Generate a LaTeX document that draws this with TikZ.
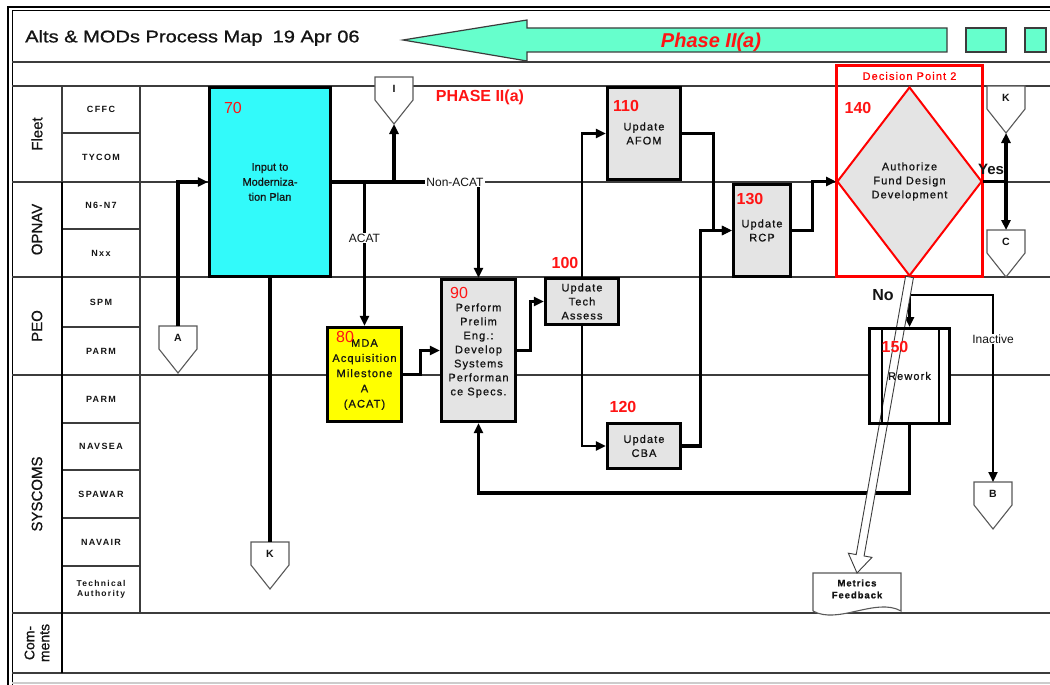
\documentclass[tikz,border=0pt]{standalone}
\usepackage{graphicx}
\usepackage{fontspec}
\setmainfont{Liberation Sans}
\newfontfamily\boxfnt[LetterSpace=10,FakeBold=0.8]{Liberation Sans}
\newfontfamily\plainfnt[FakeBold=0.8]{Liberation Sans}
\newfontfamily\lanefnt[LetterSpace=15]{Liberation Sans}
\usetikzlibrary{arrows.meta,shapes.geometric,calc}
\definecolor{cyanbox}{RGB}{50,250,250}
\definecolor{greenarr}{RGB}{102,255,204}
\definecolor{yelbox}{RGB}{255,255,0}
\definecolor{graybox}{RGB}{228,228,228}
\definecolor{redtxt}{RGB}{255,20,20}
\definecolor{linegray}{RGB}{60,60,60}
\definecolor{txtdark}{RGB}{20,20,20}
\newcommand{\mkoffpage}[4]{%
  \node[minimum width=38pt, minimum height=23pt, inner sep=0pt, outer sep=0pt, anchor=north] (#1) at (#2,#3) {};
  \coordinate (#1-tip) at ($(#1.south)+(0,24)$);
  \draw[offline] (#1.north west) -- (#1.north east) -- (#1.south east) -- (#1-tip) -- (#1.south west) -- cycle;
  \node[font=\bfseries\fontsize{10.5}{11}\selectfont, text=txtdark, inner sep=0pt] (#1-lab) at (#1.center) {#4};
}
\begin{document}
\begin{tikzpicture}[x=1pt,y=-1pt,
  lane/.style={line width=1.1pt, draw=linegray},
  proc/.style={draw=black, line width=3.2pt, inner sep=0pt, align=center, text=txtdark, font=\boxfnt\fontsize{11}{14}\selectfont},
  conn/.style={line width=3.2pt, draw=black},
  thinconn/.style={line width=2.2pt, draw=black},
  arr/.style={-{Triangle[length=10pt,width=9pt]}},
  num/.style={text=redtxt, font=\fontsize{16}{16}\selectfont, inner sep=0pt},
  bnum/.style={text=redtxt, font=\bfseries\fontsize{16}{16}\selectfont, inner sep=0pt},
  sublab/.style={font=\lanefnt\bfseries\fontsize{9}{10}\selectfont, text=txtdark, align=center, inner sep=0pt},
  grouplab/.style={rotate=90, font=\plainfnt\fontsize{15}{16}\selectfont, text=txtdark, align=center, inner sep=0pt},
  offline/.style={draw=gray!70!black, line width=1.1pt, fill=white},
  lbl/.style={font=\fontsize{12}{12}\selectfont, fill=white, inner sep=1pt, text=txtdark},
]
\useasboundingbox (0,0) rectangle (1050,685);
\fill[white] (0,0) rectangle (1050,685);

% frame
\draw[line width=2.4pt] (8,685) -- (8,7) -- (1050,7);
\draw[line width=1pt] (12,685) -- (12,11) -- (1050,11);

% lanes
\foreach \y in {62,86,182,277,375,613,673} \draw[lane] (12,\y) -- (1050,\y);
\draw[lane, draw=gray!40] (12,683) -- (1050,683);
\foreach \y in {133,229,327,423,470,518,566} \draw[lane] (62,\y) -- (140,\y);
\draw[lane] (62,86) -- (62,182);
\draw[line width=2.2pt] (62,182) -- (62,673);
\draw[lane] (140,86) -- (140,613);

% group labels
\node[grouplab] (gfleet) at (37,134) {Fleet};
\node[grouplab] (gopnav) at (37,229.5) {OPNAV};
\node[grouplab] (gpeo) at (37,326) {PEO};
\node[grouplab] (gsys) at (37,494) {SYSCOMS};
\node[grouplab, font=\plainfnt\fontsize{14}{15}\selectfont] (gcom) at (37,643) {Com-\\ments};

% sub labels
\node[sublab] (s1) at (101,109.5) {CFFC};
\node[sublab] (s2) at (101,157.5) {TYCOM};
\node[sublab] (s3) at (101,205.5) {N6-N7};
\node[sublab] (s4) at (101,253) {Nxx};
\node[sublab] (s5) at (101,302) {SPM};
\node[sublab] (s6) at (101,351) {PARM};
\node[sublab] (s7) at (101,399) {PARM};
\node[sublab] (s8) at (101,446.5) {NAVSEA};
\node[sublab] (s9) at (101,494) {SPAWAR};
\node[sublab] (s10) at (101,542) {NAVAIR};
\node[sublab, font=\lanefnt\bfseries\fontsize{8.5}{9.5}\selectfont] (s11) at (101,589.5) {Technical\\Authority};

% header
\node[anchor=west, font=\plainfnt\fontsize{17}{17}\selectfont, text=txtdark, inner sep=0pt] (title) at (25,38) {\scalebox{1.18}[1]{Alts \& MODs Process Map\enspace 19 Apr 06}};
\draw[fill=greenarr, draw=linegray, line width=1.2pt] (403,40) -- (527,20) -- (527,28) -- (947,28) -- (947,52) -- (527,52) -- (527,61) -- cycle;
\node[font=\bfseries\itshape\fontsize{20}{20}\selectfont, text=redtxt, inner sep=0pt] (phase) at (711,42) {Phase II(a)};
\draw[fill=greenarr, draw=linegray, line width=1.2pt] (966,28) rectangle (1006,52);
\draw[fill=greenarr, draw=linegray, line width=1.2pt] (1025,28) rectangle (1046,52);

% boxes
\node[proc, fill=cyanbox, minimum width=121pt, minimum height=189pt, font=\plainfnt\fontsize{11}{15}\selectfont] (b70) at (270,182) {Input to\\Moderniza-\\tion Plan};
\node[proc, fill=yelbox, minimum width=74pt, minimum height=94pt, font=\boxfnt\fontsize{11}{15.2}\selectfont] (b80) at (364.5,374.5) {MDA\\Acquisition\\Milestone\\A\\(ACAT)};
\node[proc, fill=graybox, minimum width=74pt, minimum height=142pt] (b90) at (478.5,350.5) {Perform\\Prelim\\Eng.:\\Develop\\Systems\\Performan\\ce Specs.};
\node[proc, fill=graybox, minimum width=73pt, minimum height=46pt] (b100) at (582,301.5) {Update\\Tech\\Assess};
\node[proc, fill=graybox, minimum width=73pt, minimum height=92pt] (b110) at (644,133.5) {Update\\AFOM};
\node[proc, fill=graybox, minimum width=73pt, minimum height=45pt] (b120) at (644,446) {Update\\CBA};
\node[proc, fill=graybox, minimum width=57pt, minimum height=92pt] (b130) at (762,230.5) {Update\\RCP};

% decision point
\node[draw=red, line width=3pt, minimum width=146pt, minimum height=211pt, inner sep=0pt] (dpbox) at (909.5,171) {};
\node[diamond, draw=red, line width=2pt, fill=graybox, minimum width=145pt, minimum height=189pt, inner sep=0pt, align=center, text=txtdark, font=\boxfnt\fontsize{11}{14}\selectfont] (dp) at (909.5,181.5) {Authorize\\Fund Design\\Development};
\node[text=red, font=\boxfnt\fontsize{11}{12}\selectfont, inner sep=0pt] (dptitle) at (909.5,76) {Decision Point 2};

% rework background
\node[fill=white, minimum width=83pt, minimum height=98pt, inner sep=0pt, outer sep=0pt] (b150) at (909.5,376) {};

% metrics feedback
\node[minimum width=88pt, minimum height=38pt, inner sep=0pt, outer sep=0pt, anchor=north] (mf) at (857,573) {};
\draw[offline] (mf.south west) -- (mf.north west) -- (mf.north east) -- (mf.south east) .. controls +(-25,-14) and +(25,14) .. (mf.south west);
\node[font=\boxfnt\bfseries\fontsize{9.5}{12}\selectfont, align=center, text=txtdark, inner sep=0pt] (mftext) at ($(mf.center)+(0,-3)$) {Metrics\\Feedback};

% off-page connectors
\mkoffpage{A}{178}{326}{A}
\mkoffpage{I}{394}{77}{I}
\mkoffpage{K1}{270}{542}{K}
\mkoffpage{K2}{1006}{86}{K}
\mkoffpage{C}{1006}{230}{C}
\mkoffpage{B}{993}{482}{B}

% connectors
\draw[conn, arr] (A.north) |- (b70.west);
\draw[conn] (b70.south) -- (K1.north);
\draw[conn, arr] (b70.east) -- (b70.east -| b90.north) -- (b90.north);
\draw[conn, arr] (b70.east -| b80.north) -- (b80.north);
\draw[conn, arr] (b70.east -| I-tip) -- (I-tip);
\draw[conn, arr] (b80.east) -- ++(17,0) |- (b90.west);
\draw[conn, arr] (b90.east) -- ++(13,0) |- (b100.west);
\draw[thinconn, arr] (b100.north) |- (b110.west);
\draw[thinconn, arr] (b100.south) |- (b120.west);
\draw[conn, arr] (b110.east) -- ++(31,0) |- (b130.west);
\draw[conn, arr] (b120.east) -- ++(18,0) |- (b130.west);
\draw[conn, arr] (b130.east) -- ++(20,0) |- (dp.west);
\coordinate (yj) at (dp.east -| K2.center);
\draw[conn] (dp.east) -- (yj);
\draw[conn, arr] (yj) -- (K2-tip);
\draw[conn, arr] (yj) -- (C.north);
\coordinate (nj) at ($(dp.south)+(0,18)$);
\draw[conn] (dp.south) -- (nj);
\draw[conn, arr] (nj) -- (b150.north);
\draw[thinconn, arr] (nj) -| (B.north);
\draw[conn, arr] (b150.south) -- ++(0,68) -| (b90.south);

% hollow arrow to metrics
\coordinate (ha1) at (dp.south);
\coordinate (ha2) at (mf.north);
\coordinate (hah) at ($(ha2)!18pt!(ha1)$);
\draw[draw=linegray, line width=0.9pt, fill=white]
  ($(ha1)!4pt!90:(ha2)$) -- ($(hah)!4pt!90:(ha2)$) -- ($(hah)!12pt!90:(ha2)$) -- (ha2)
  -- ($(hah)!12pt!-90:(ha2)$) -- ($(hah)!4pt!-90:(ha2)$) -- ($(ha1)!4pt!-90:(ha2)$) -- cycle;

% rework outline
\node[draw=black, line width=3.2pt, minimum width=80pt, minimum height=95pt, inner sep=0pt, font=\boxfnt\fontsize{11}{14}\selectfont, text=txtdark] (b150t) at (b150.center) {Rework};
\draw[line width=2.4pt] ([xshift=14pt]b150.north west) -- ([xshift=14pt]b150.south west);
\draw[line width=2.4pt] ([xshift=-12pt]b150.north east) -- ([xshift=-12pt]b150.south east);

% labels
\node[lbl] (lnon) at (455,182) {Non-ACAT};
\node[lbl] (lacat) at (364.5,238) {ACAT};
\node[lbl] (linact) at (993,339) {Inactive};
\node[font=\bfseries\fontsize{15}{15}\selectfont, text=txtdark, inner sep=0pt] (lyes) at (991,169) {Yes};
\node[font=\bfseries\fontsize{16}{16}\selectfont, text=txtdark, inner sep=0pt] (lno) at (883,295) {No};
\node[font=\bfseries\fontsize{16}{16}\selectfont, text=redtxt, inner sep=0pt] (phase2) at (480,97) {PHASE II(a)};

% numbers
\node[num] (n70) at (233,108) {70};
\node[num] (n80) at (345,337) {80};
\node[num] (n90) at (459,293) {90};
\node[bnum] (n100) at (565,263) {100};
\node[bnum] (n110) at (626,106) {110};
\node[bnum] (n120) at (623,407) {120};
\node[bnum] (n130) at (750,199) {130};
\node[bnum] (n140) at (858,108) {140};
\node[bnum] (n150) at (895,347) {150};
\end{tikzpicture}
\end{document}
